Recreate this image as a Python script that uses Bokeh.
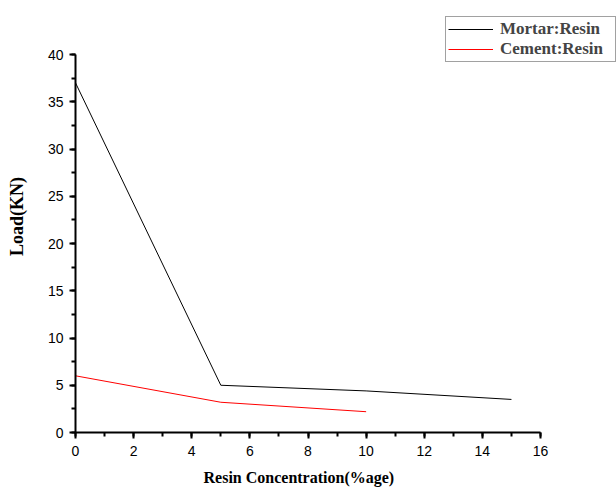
from bokeh.plotting import figure
from bokeh.models import Range1d, Legend, LegendItem, SingleIntervalTicker, Title
from bokeh.embed import file_html
from bokeh.resources import INLINE

mortar_x = [0, 5, 10, 15]
mortar_y = [37, 5, 4.4, 3.5]
cement_x = [0, 5, 10]
cement_y = [6, 3.2, 2.2]

X_MAX, Y_MAX = 16, 40
W, H = 616, 488
LEFT, BOTTOM = 75, 56
PLOT_W, PLOT_H = 465, 378  # pixel extent of the axes 0..X_MAX, 0..Y_MAX
frame_w = W - LEFT
frame_h = H - BOTTOM

p = figure(width=W, height=H, output_backend="svg", toolbar_location=None,
           x_range=Range1d(0, X_MAX * frame_w / PLOT_W),
           y_range=Range1d(0, Y_MAX * frame_h / PLOT_H),
           min_border_left=LEFT, min_border_right=0, min_border_top=0,
           min_border_bottom=BOTTOM)
p.outline_line_color = None
p.grid.visible = False
p.background_fill_color = "white"

r1 = p.line(mortar_x, mortar_y, line_color="black", line_width=1)
r2 = p.line(cement_x, cement_y, line_color="red", line_width=1)

p.xaxis.ticker = SingleIntervalTicker(interval=2, num_minor_ticks=2)
p.yaxis.ticker = SingleIntervalTicker(interval=5, num_minor_ticks=2)
p.xaxis.bounds = (0, X_MAX)
p.yaxis.bounds = (0, Y_MAX)

for ax in (p.xaxis[0], p.yaxis[0]):
    ax.axis_line_width = 2
    ax.major_tick_line_width = 2
    ax.minor_tick_line_width = 2
    ax.major_tick_out = 6
    ax.major_tick_in = 0
    ax.minor_tick_out = 4
    ax.minor_tick_in = 0
    ax.major_label_text_font = "Liberation Sans"
    ax.major_label_text_font_size = "14px"
    ax.major_label_text_color = "black"
    ax.axis_label_text_font = "Liberation Serif"
    ax.axis_label_text_font_style = "bold"
    ax.axis_label_text_color = "black"

p.yaxis.axis_label = "Load(KN)"
p.yaxis.axis_label_text_font_size = "18px"
p.xaxis.major_label_standoff = 7
p.yaxis.major_label_standoff = 6
p.yaxis.axis_label_standoff = 18
# spacer label on the x axis to push the x title down
p.xaxis.axis_label = " "
p.xaxis.axis_label_text_font_size = "4px"
p.xaxis.axis_label_standoff = 0

xlabel = Title(text="Resin Concentration(%age)", align="left", offset=128,
               text_font="Liberation Serif", text_font_style="bold",
               text_font_size="16px", text_color="black", standoff=0)
p.add_layout(xlabel, "below")

legend = Legend(items=[LegendItem(label="Mortar:Resin", renderers=[r1]),
                       LegendItem(label="Cement:Resin", renderers=[r2])],
                location=(370, 370), margin=0, padding=2, spacing=0,
                glyph_width=45, glyph_height=16, label_height=16,
                label_standoff=7, label_width=113,
                label_text_font="Liberation Serif", label_text_font_style="bold",
                label_text_font_size="17px",
                border_line_color="#444444", border_line_width=1.5,
                background_fill_alpha=1)
p.add_layout(legend, "center")

open("out.html", "w").write(file_html(p, INLINE))
